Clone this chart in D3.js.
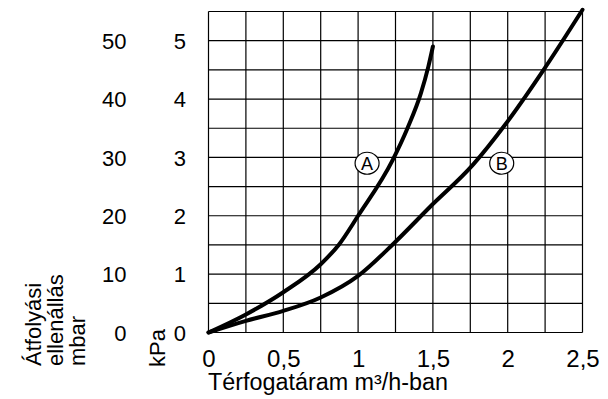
<!DOCTYPE html>
<html><head><meta charset="utf-8">
<script src="https://cdn.jsdelivr.net/npm/d3@7"></script>
<style>
html,body{margin:0;padding:0;background:#fff;}
text{font-family:"Liberation Sans",Arial,sans-serif;fill:#000;}
</style></head>
<body>
<svg id="c" width="608" height="399"></svg>
<script>
const xTicks = [0, 0.5, 1, 1.5, 2, 2.5];
const xTickLabels = ["0", "0,5", "1", "1,5", "2", "2,5"];
const kpaTicks = [0, 1, 2, 3, 4, 5];
const mbarLabels = ["0", "10", "20", "30", "40", "50"];
const xGrid = [0, 0.25, 0.5, 0.75, 1, 1.25, 1.5, 1.75, 2, 2.25, 2.5];
const yGrid = [0, 0.5, 1, 1.5, 2, 2.5, 3, 3.5, 4, 4.5, 5, 5.5];
const curveAx = [0, 0.25, 0.5, 0.75, 0.87, 1.0, 1.23, 1.33, 1.42, 1.47, 1.5];
const curveAy = [0, 0.31, 0.69, 1.17, 1.5, 2.0, 2.95, 3.5, 4.1, 4.56, 4.9];
const curveBx = [0, 0.25, 0.5, 0.75, 1.0, 1.24, 1.48, 1.77, 1.98, 2.24, 2.5];
const curveBy = [0, 0.2, 0.37, 0.6, 0.97, 1.53, 2.15, 2.88, 3.55, 4.5, 5.53];
const labels = ["A", "B"];
const labelX = [1.06, 1.96];
const labelY = [2.9, 2.9];
const xTitle = "Térfogatáram m³/h-ban";
const yTitleLines = ["Átfolyási", "ellenállás", "mbar"];
const kpaTitle = "kPa";

const svg = d3.select("#c");
const x = d3.scaleLinear().domain([0, 2.5]).range([208.5, 582.5]);
const y = d3.scaleLinear().domain([0, 5.5]).range([332.5, 11.5]);
const fs = 22;
const ff = "Liberation Sans, Arial, sans-serif";

// grid
const g = svg.append("g");
g.selectAll("line.v").data(xGrid).join("line")
  .attr("x1", d => x(d)).attr("x2", d => x(d))
  .attr("y1", y(0)).attr("y2", y(5.5))
  .attr("stroke", "#000").attr("stroke-width", 1.2);
g.selectAll("line.h").data(yGrid).join("line")
  .attr("y1", d => y(d)).attr("y2", d => y(d))
  .attr("x1", x(0)).attr("x2", x(2.5))
  .attr("stroke", "#000").attr("stroke-width", 1.2);

// x axis labels
const xAxis = d3.axisBottom(x).tickValues(xTicks).tickSize(0).tickPadding(0)
  .tickFormat((d, i) => xTickLabels[i]);
const xa = svg.append("g").attr("transform", `translate(0,${y(0)})`).call(xAxis);
xa.select(".domain").remove();
xa.selectAll("text").attr("font-size", 24).attr("dy", null).attr("y", 34)
  .attr("font-family", ff);

// kPa axis labels
const kAxis = d3.axisLeft(y).tickValues(kpaTicks).tickSize(0).tickPadding(0)
  .tickFormat(d => String(d));
const ka = svg.append("g").attr("transform", "translate(186,0)").call(kAxis);
ka.select(".domain").remove();
ka.selectAll("text").attr("font-size", fs).attr("x", 0).attr("dy", "0.35em")
  .attr("font-family", ff);

// mbar axis labels
const mAxis = d3.axisLeft(y).tickValues(kpaTicks).tickSize(0).tickPadding(0)
  .tickFormat((d, i) => mbarLabels[i]);
const ma = svg.append("g").attr("transform", "translate(126.5,0)").call(mAxis);
ma.select(".domain").remove();
ma.selectAll("text").attr("font-size", fs).attr("x", 0).attr("dy", "0.35em")
  .attr("font-family", ff);

// titles
svg.append("text").attr("x", 208).attr("y", 390).attr("font-size", 23)
  .attr("textLength", 240).attr("lengthAdjust", "spacingAndGlyphs").text(xTitle);
const yt = svg.append("g");
yTitleLines.forEach((t, i) => {
  yt.append("text").attr("transform", `translate(${41 + i * 22},366) rotate(-90)`)
    .attr("font-size", fs).text(t);
});
svg.append("text").attr("transform", "translate(165,367) rotate(-90)")
  .attr("font-size", fs).text(kpaTitle);

// curves
const line = d3.line().x(d => x(d[0])).y(d => y(d[1])).curve(d3.curveMonotoneX);
const dataA = curveAx.map((v, i) => [v, curveAy[i]]);
const dataB = curveBx.map((v, i) => [v, curveBy[i]]);
[dataA, dataB].forEach(d => {
  svg.append("path").datum(d).attr("d", line).attr("fill", "none")
    .attr("stroke", "#000").attr("stroke-width", 4).attr("stroke-linecap", "round");
});

// curve labels
labels.forEach((t, i) => {
  svg.append("ellipse").attr("cx", x(labelX[i])).attr("cy", y(labelY[i]))
    .attr("rx", 12).attr("ry", 11).attr("fill", "#fff").attr("stroke", "#000").attr("stroke-width", 1.2);
  svg.append("text").attr("x", x(labelX[i])).attr("y", y(labelY[i]))
    .attr("dy", "0.36em").attr("text-anchor", "middle").attr("font-size", 18).text(t);
});
</script>
</body></html>
